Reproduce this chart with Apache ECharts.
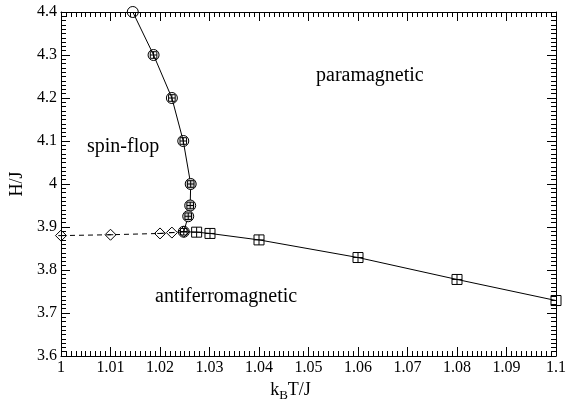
<!DOCTYPE html>
<html><head><meta charset="utf-8">
<script src="https://cdn.jsdelivr.net/npm/echarts@6/dist/echarts.min.js"></script>
<style>html,body{margin:0;padding:0;background:#fff}#c{width:579px;height:404px}</style>
</head><body><div id="c"></div>
<script>
// spin-flop / paramagnetic boundary (circles)
const spinFlopT = [1.0145, 1.0187, 1.0224, 1.0247, 1.0262, 1.0261, 1.0257, 1.0248];
const spinFlopH = [4.4, 4.3, 4.2, 4.1, 4.0, 3.95, 3.925, 3.889];
// spin-flop / antiferromagnetic boundary (diamonds, dashed)
const afmDashT = [1.0, 1.01, 1.02, 1.0224, 1.0248];
const afmDashH = [3.880, 3.882, 3.885, 3.887, 3.889];
// paramagnetic / antiferromagnetic boundary (squares, solid)
const afmSolidT = [1.0248, 1.0274, 1.0301, 1.04, 1.06, 1.08, 1.1];
const afmSolidH = [3.889, 3.888, 3.885, 3.870, 3.829, 3.778, 3.729];
// axes
const xTicks = [1, 1.01, 1.02, 1.03, 1.04, 1.05, 1.06, 1.07, 1.08, 1.09, 1.1];
const yTicks = [3.6, 3.7, 3.8, 3.9, 4.0, 4.1, 4.2, 4.3, 4.4];
const regionLabels = ['paramagnetic', 'spin-flop', 'antiferromagnetic'];

const FONT = 'Liberation Serif';
const sqPlus = 'path://M0,0H10V10H0ZM5,0V10M0,5H10';
const circSq = 'path://M5,0A5,5,0,1,1,4.99,0ZM2,2H8V8H2ZM5,2V8M2,5H8';
const diaLine = 'path://M5,0L10,5L5,10L0,5ZM2.5,5H7.5';
const clear = 'rgba(0,0,0,0)';

const zip = (a, b) => a.map((v, i) => [v, b[i]]);

const chart = echarts.init(document.getElementById('c'), null, {renderer: 'canvas'});

const xMin = xTicks[0], xMax = xTicks[xTicks.length - 1];
const yMin = yTicks[0], yMax = yTicks[yTicks.length - 1];
const fmt = v => String(+(+v).toFixed(2));

function xAx(pos, show) {
  return {
    type: 'value', position: pos, min: xMin, max: xMax, interval: 0.01,
    axisLine: {show: true, onZero: false, lineStyle: {color: '#000', width: 1}},
    axisTick: {show: true, inside: true, length: 9, lineStyle: {color: '#000'}},
    minorTick: {show: true, splitNumber: 10, length: 5, lineStyle: {color: '#000'}},
    splitLine: {show: false},
    axisLabel: {show: show, formatter: fmt, color: '#000', fontFamily: FONT, fontSize: 16, margin: 4},
    name: show ? '{n|k}{s|B}{n|T/J}' : '', nameLocation: 'middle', nameGap: 21,
    nameTextStyle: {padding: [0, 36, 0, 0], rich: {n: {fontFamily: FONT, fontSize: 18, color: '#000'}, s: {fontFamily: FONT, fontSize: 13, color: '#000', verticalAlign: 'bottom', padding: [12, 0, 0, 0]}}}
  };
}
function yAx(pos, show) {
  return {
    type: 'value', position: pos, min: yMin, max: yMax, interval: 0.1,
    axisLine: {show: true, onZero: false, lineStyle: {color: '#000', width: 1}},
    axisTick: {show: true, inside: true, length: 9, lineStyle: {color: '#000'}},
    minorTick: {show: true, splitNumber: 10, length: 5, lineStyle: {color: '#000'}},
    splitLine: {show: false},
    axisLabel: {show: show, formatter: fmt, color: '#000', fontFamily: FONT, fontSize: 16, margin: 4},
    name: show ? 'H/J' : '', nameLocation: 'middle', nameGap: 27, nameRotate: 90,
    nameTextStyle: {fontFamily: FONT, fontSize: 18, color: '#000'}
  };
}

const circleData = zip(spinFlopT, spinFlopH).map((p, i) => ({
  value: p,
  symbol: i === 0 ? 'circle' : circSq,
  itemStyle: {color: (i >= 4 && i <= 6) ? '#d8d8d8' : clear}
}));
const squareData = zip(afmSolidT, afmSolidH).map((p, i, arr) => ({
  value: p,
  symbol: i === 0 ? 'none' : (i === arr.length - 1 ? 'rect' : sqPlus)
}));
const diamondData = zip(afmDashT, afmDashH).map(p => ({value: p, symbol: diaLine}));

chart.setOption({
  animation: false,
  backgroundColor: '#fff',
  grid: {left: 61, right: 23, top: 12, bottom: 48, containLabel: false, outerBoundsMode: 'none'},
  xAxis: [xAx('bottom', true), xAx('top', false)],
  yAxis: [yAx('left', true), yAx('right', false)],
  series: [
    {
      type: 'line', data: diamondData, symbolSize: [11, 11], showAllSymbol: true,
      lineStyle: {color: '#000', width: 1, type: [5, 4]},
      itemStyle: {color: clear, borderColor: '#000', borderWidth: 1}, z: 3
    },
    {
      type: 'line', data: squareData, symbolSize: 10, showAllSymbol: true,
      lineStyle: {color: '#000', width: 1},
      itemStyle: {color: clear, borderColor: '#000', borderWidth: 1}, z: 3
    },
    {
      type: 'line', data: circleData, symbolSize: 11, showAllSymbol: true,
      lineStyle: {color: '#000', width: 1},
      itemStyle: {color: clear, borderColor: '#000', borderWidth: 1}, z: 4
    }
  ],
  graphic: [
    {type: 'text', left: 316, top: 66, style: {text: regionLabels[0], fontFamily: FONT, fontSize: 20, fill: '#000'}},
    {type: 'text', left: 87, top: 137, style: {text: regionLabels[1], fontFamily: FONT, fontSize: 20, fill: '#000'}},
    {type: 'text', left: 155, top: 287, style: {text: regionLabels[2], fontFamily: FONT, fontSize: 20, fill: '#000'}}
  ]
});
</script>
</body></html>
